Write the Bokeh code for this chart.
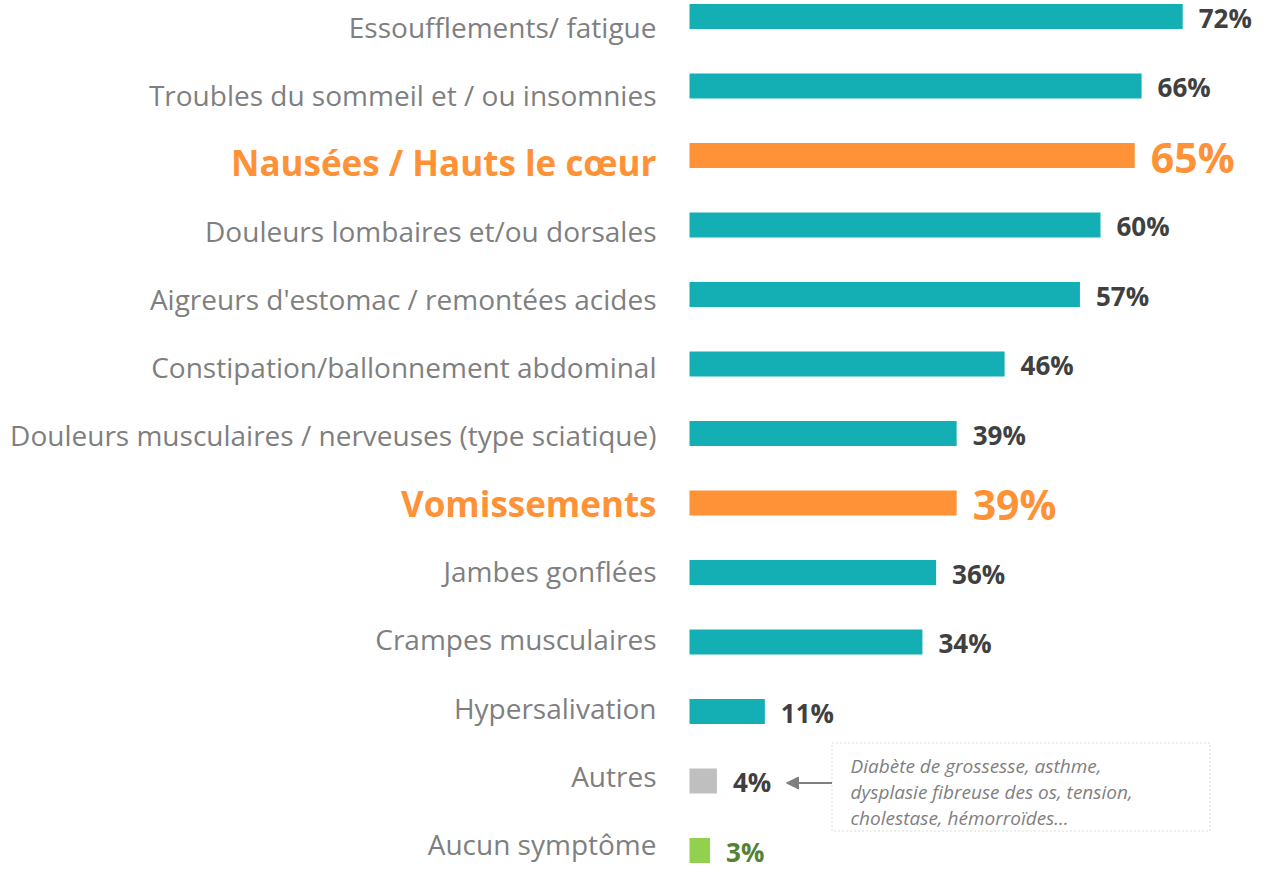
from bokeh.plotting import figure
from bokeh.models import ColumnDataSource, Range1d, BoxAnnotation, Arrow, NormalHead
from bokeh.core.properties import value
from bokeh.embed import file_html
from bokeh.resources import INLINE

# ---------------- data ----------------
categories = [
    "Essoufflements/ fatigue",
    "Troubles du sommeil et / ou insomnies",
    "Nausées / Hauts le cœur",
    "Douleurs lombaires et/ou dorsales",
    "Aigreurs d'estomac / remontées acides",
    "Constipation/ballonnement abdominal",
    "Douleurs musculaires / nerveuses (type sciatique)",
    "Vomissements",
    "Jambes gonflées",
    "Crampes musculaires",
    "Hypersalivation",
    "Autres",
    "Aucun symptôme",
]
values = [72, 66, 65, 60, 57, 46, 39, 39, 36, 34, 11, 4, 3]
kinds = ["base", "base", "highlight", "base", "base", "base", "base",
         "highlight", "base", "base", "base", "other", "none"]
note_lines = [
    "Diabète de grossesse, asthme,",
    "dysplasie fibreuse des os, tension,",
    "cholestase, hémorroïdes…",
]

# ---------------- style ----------------
bar_colors = {"base": "#13AFB5", "highlight": "#FF9136", "other": "#BFBFBF", "none": "#92D050"}
val_colors = {"base": "#404040", "highlight": "#FF9136", "other": "#404040", "none": "#548235"}
FONT = "Open Sans"
W, H = 1253, 873
X0 = 689          # canvas px of value 0
PXU = 6.85        # px per percent
TOP = 16          # canvas px of first row centre
ROW = 69.5        # px per row

p = figure(width=W, height=H, output_backend="svg", toolbar_location=None,
           min_border=0, x_axis_location=None, y_axis_location=None,
           x_range=Range1d(-X0 / PXU, (W - X0) / PXU),
           y_range=Range1d((H - TOP) / ROW, -TOP / ROW))
p.grid.visible = False
p.outline_line_color = None
p.background_fill_color = "white"
p.border_fill_color = "white"

ys = list(range(len(categories)))
src = ColumnDataSource(dict(
    y=ys, v=values, cat=categories,
    color=[bar_colors[k] for k in kinds],
    vcolor=[val_colors[k] for k in kinds],
    vtxt=[f"{v}%" for v in values],
    loff=[10 - 1.4 * i for i in ys],
))
p.hbar(y="y", left=0, right="v", height=25 / ROW, fill_color="color",
       line_color=None, source=src)

def sub(mask):
    d = {k: [x for x, m in zip(vals, mask) if m] for k, vals in src.data.items()}
    return ColumnDataSource(d)

norm = [k != "highlight" for k in kinds]
high = [k == "highlight" for k in kinds]
s_norm, s_high = sub(norm), sub(high)

# category labels
p.text(x=0, y="y", text="cat", source=s_norm, x_offset=-33, y_offset="loff",
       text_align="right", text_baseline="middle", text_color="#7F7F7F",
       text_font=value(FONT), text_font_size="28px")
p.text(x=0, y="y", text="cat", source=s_high, x_offset=-33, y_offset="loff",
       text_align="right", text_baseline="middle", text_color="#FF9136",
       text_font=value(FONT), text_font_size="35px", text_font_style="bold")

# value labels
p.text(x="v", y="y", text="vtxt", source=s_norm, x_offset=16, y_offset=1,
       text_align="left", text_baseline="middle", text_color="vcolor",
       text_font=value(FONT), text_font_size="26px", text_font_style="bold")
p.text(x="v", y="y", text="vtxt", source=s_high, x_offset=16, y_offset=1,
       text_align="left", text_baseline="middle", text_color="vcolor",
       text_font=value(FONT), text_font_size="41px", text_font_style="bold")

# note box for "Autres"
ia = categories.index("Autres")
def px2x(px):
    return (px - X0) / PXU
box_l, box_r = px2x(831.5), px2x(1209.5)
p.add_layout(BoxAnnotation(left=box_l, right=box_r, top=ia - 38 / ROW, bottom=ia + 50 / ROW,
                           fill_alpha=0, line_color="#8C8C8C", line_dash="2 2", line_width=1))
p.add_layout(Arrow(end=NormalHead(size=12, fill_color="#7F7F7F", line_color="#7F7F7F"),
                   x_start=box_l, y_start=ia + 2 / ROW,
                   x_end=px2x(786), y_end=ia + 2 / ROW,
                   line_color="#7F7F7F", line_width=2))
note_src = ColumnDataSource(dict(
    x=[px2x(850)] * len(note_lines),
    y=[ia + (o / ROW) for o in (-15, 11, 37)],
    t=note_lines,
))
p.text(x="x", y="y", text="t", source=note_src, text_align="left", text_baseline="middle",
       text_color="#7F7F7F", text_font=value(FONT), text_font_size="19px",
       text_font_style="italic")

open("out.html", "w").write(file_html(p, INLINE))
